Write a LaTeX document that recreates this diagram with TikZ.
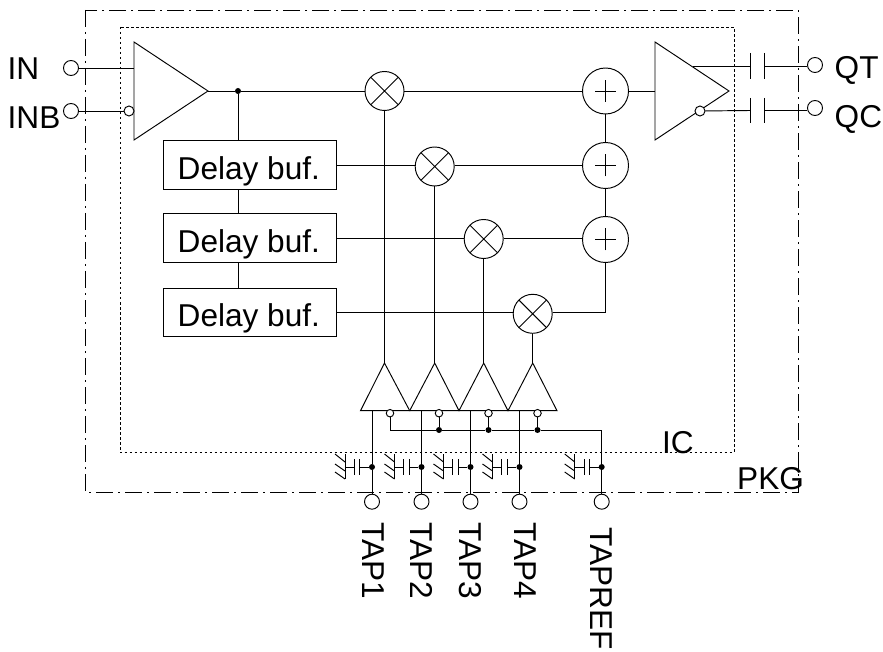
\documentclass[tikz,border=0pt]{standalone}
\usepackage{fontspec}
\setmainfont{Liberation Sans}
\newcommand{\lblfont}{\fontsize{31.6}{34}\selectfont}
\newcommand{\dly}[1]{\kern-1.7pt\raisebox{-#1pt}[0pt][0pt]{\makebox[0pt]{Delay buf.}}}
\tikzset{
  wire/.style={line width=0.95pt,draw=black},
  tri/.style={line width=0.95pt,draw=black,line join=miter},
  port/.style={circle,draw=black,line width=0.95pt,fill=white,inner sep=0pt,minimum size=15pt},
  bubble/.style={circle,draw=black,line width=0.95pt,fill=white,inner sep=0pt,minimum size=#1},
  joint/.style={circle,fill=black,inner sep=0pt,minimum size=6pt},
  mult/.style={circle,draw=black,line width=0.95pt,fill=white,inner sep=0pt,minimum size=39pt,
    path picture={\draw[line width=0.95pt] (path picture bounding box.north west)--(path picture bounding box.south east)
      (path picture bounding box.north east)--(path picture bounding box.south west);}},
  adder/.style={circle,draw=black,line width=0.95pt,fill=white,inner sep=0pt,minimum size=46pt,
    path picture={\draw[line width=0.95pt] ([xshift=-10.5pt]path picture bounding box.center)--([xshift=10.5pt]path picture bounding box.center)
      ([yshift=-11pt]path picture bounding box.center)--([yshift=11pt]path picture bounding box.center);}},
  delaybox/.style={rectangle,draw=black,line width=0.95pt,fill=white,inner sep=0pt,minimum width=172.7pt,minimum height=48.5pt,font=\lblfont},
  lbl/.style={inner sep=0pt,anchor=base west,font=\lblfont},
  vlbl/.style={inner sep=0pt,anchor=west,rotate=-90,font=\lblfont},
  pkgbox/.style={line width=0.9pt,dash pattern=on 17pt off 5pt on 2pt off 5pt},
  icbox/.style={line width=0.9pt,dash pattern=on 2.5pt off 2.5pt},
}
\begin{document}
\begin{tikzpicture}[x=1pt,y=-1pt]
\useasboundingbox (0,0) rectangle (883,652);
% frames
\draw[pkgbox] (85,10) rectangle (798,492);
\draw[icbox] (120,27) rectangle (734,452.3);
% key coordinates
\coordinate (ampA) at (134,42); \coordinate (ampB) at (134,140); \coordinate (ampO) at (208,91);
\coordinate (outA) at (655,42); \coordinate (outB) at (655,140); \coordinate (outO) at (729,91);
\coordinate (outT) at (693,66.5);
% nodes
\node[port] (in) at (71,68) {};
\node[port] (inb) at (71,111) {};
\node[port] (qt) at (815,65) {};
\node[port] (qc) at (815,108) {};
\node[joint] (j0) at (238,91) {};
\node[mult] (m1) at (384.5,91) {};
\node[mult] (m2) at (434.7,166.5) {};
\node[mult] (m3) at (483.7,239) {};
\node[mult] (m4) at (532.7,313.8) {};
\node[adder] (a1) at (605.5,91) {};
\node[adder] (a2) at (605.5,165.5) {};
\node[adder] (a3) at (605.5,239.5) {};
\node[delaybox] (d1) at (249.7,165) {\dly{15}};
\node[delaybox] (d2) at (249.7,238) {\dly{14.7}};
\node[delaybox] (d3) at (249.7,312.5) {\dly{14.2}};
% input amp
\draw[tri] (ampA)--(ampO)--(ampB)--cycle;
\draw[wire] (in)--(in-|ampA);
\node[bubble=10pt] (ib) at (129,111) {};
\draw[wire] (inb)--(ib);
\draw[wire] (ampO)--(j0)--(m1);
\draw[wire] (j0)--(j0|-d1.north);
\draw[wire] (j0|-d1.south)--(j0|-d2.north);
\draw[wire] (j0|-d2.south)--(j0|-d3.north);
\draw[wire] (d1.east)--(d1.east-|m2.west);
\draw[wire] (d2.east)--(d2.east-|m3.west);
\draw[wire] (d3.east)--(d3.east-|m4.west);
\draw[wire] (m1)--(a1);
\draw[wire] (d1.east-|m2.east)--(d1.east-|a2.west);
\draw[wire] (d2.east-|m3.east)--(d2.east-|a3.west);
\draw[wire] (a1)--(a2);
\draw[wire] (a2)--(a3);
\draw[wire] (a3)--(a3|-d3.east)--(d3.east-|m4.east);
% output amp
\draw[wire] (a1)--(outA|-a1);
\draw[tri] (outA)--(outO)--(outB)--cycle;
\node[bubble=10pt] (ob) at (700,111) {};
% output capacitors
\coordinate (ct1) at (750,66.5); \coordinate (ct2) at (764.7,66.5);
\coordinate (cc1) at (750,110.5); \coordinate (cc2) at (764.7,110.5);
\draw[wire] (outT)--(ct1);
\draw[wire] (ct2)--(qt.west|-ct2);
\draw[wire] (ob)--(cc1);
\draw[wire] (cc2)--(qc.west|-cc2);
\draw[wire] (750,53)--(750,79) (764.7,53)--(764.7,79);
\draw[wire] (750,98)--(750,123) (764.7,98)--(764.7,123);
% tap amps
\foreach \n/\ax/\bl/\br/\st/\bb in {1/384.5/360.5/409.7/372/390,2/434.7/409.7/459/421.5/439,3/483.7/459/508/470.5/488.5,4/532.7/508/557/519.5/537.5}{
  \coordinate (apex\n) at (\ax,363);
  \coordinate (baseL\n) at (\bl,410.7);
  \coordinate (baseR\n) at (\br,410.7);
  \coordinate (stem\n) at (\st,410.7);
  \draw[tri] (apex\n)--(baseR\n)--(baseL\n)--cycle;
  \node[port] (tap\n) at (\st,501.7) {};
  \node[joint] (tj\n) at (\st,467) {};
  \draw[wire] (stem\n)--(tj\n)--(tap\n);
  \node[bubble=7.5pt] (tb\n) at (\bb,413.2) {};
}
\draw[line width=1.8pt] (m1)--(apex1);
\draw[wire] (m2)--(apex2);
\draw[wire] (m3)--(apex3);
\draw[wire] (m4)--(apex4);
\node[port] (tapref) at (601.7,501.7) {};
\node[joint] (tj5) at (601.7,467) {};
\coordinate (busL) at (390,430);
\coordinate (busR) at (601.7,430);
\node[joint] (b2) at (439,430) {};
\node[joint] (b3) at (488.5,430) {};
\node[joint] (b4) at (537.5,430) {};
\draw[wire] (tb1)--(busL)--(b2)--(b3)--(b4)--(busR)--(tj5)--(tapref);
\draw[wire] (tb2)--(b2);
\draw[wire] (tb3)--(b3);
\draw[wire] (tb4)--(b4);
% decoupling capacitors with grounds
\foreach \n in {1,2,3,4,5}{
  \begin{scope}[shift={(tj\n)}]
    \coordinate (p1) at (-12.3,0); \coordinate (p2) at (-17.7,0); \coordinate (g) at (-27,0);
    \draw[wire] (tj\n)--(p1);
    \draw[wire] (p2)--(g);
    \draw[wire] (-12.3,-8)--(-12.3,8) (-17.7,-8)--(-17.7,8);
    \draw[wire] (-27,-13)--(-27,12);
    \draw[wire] (-37,-13)--(-27,-5) (-37,-3)--(-27,4) (-37,5)--(-27,12);
  \end{scope}
}
% labels
\node[lbl] (lIN) at (7.5,80) {IN};
\node[lbl] (lINB) at (7.5,129) {INB};
\node[lbl] (lQT) at (834.5,79) {QT};
\node[lbl] (lQC) at (834.5,128) {QC};
\node[lbl] (lIC) at (662,453) {IC};
\node[lbl] (lPKG) at (737,489.5) {PKG};
\node[vlbl] (l1) at (373,522) {TAP1};
\node[vlbl] (l2) at (421.5,522) {TAP2};
\node[vlbl] (l3) at (470.5,522) {TAP3};
\node[vlbl] (l4) at (525,522) {TAP4};
\node[vlbl] (l5) at (601.5,527) {TAPREF};
\end{tikzpicture}
\end{document}
